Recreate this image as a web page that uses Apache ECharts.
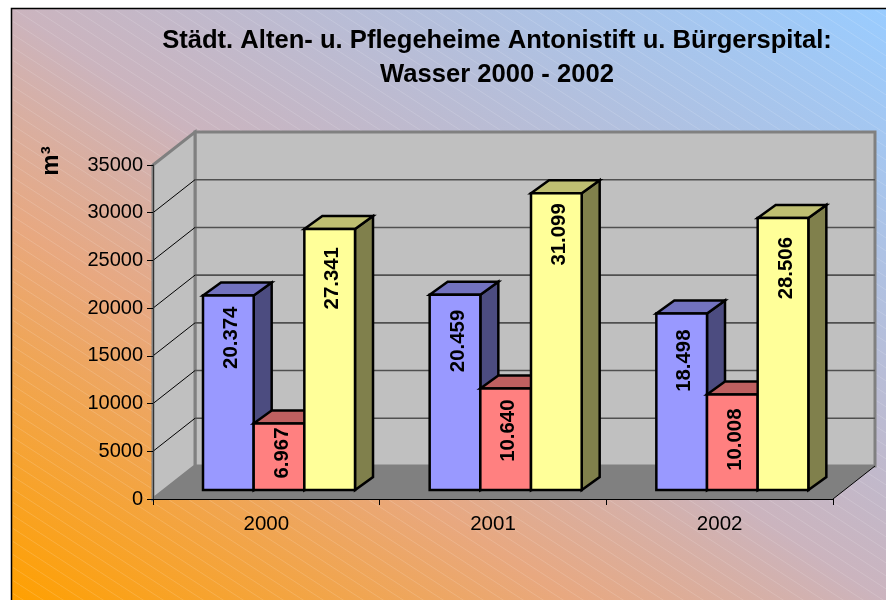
<!DOCTYPE html>
<html><head><meta charset="utf-8">
<style>html,body{margin:0;padding:0;background:#fff}#c{width:886px;height:600px}</style>
<script src="https://cdn.jsdelivr.net/npm/echarts@6/dist/echarts.min.js"></script>
</head><body><div id="c"></div>
<script>
const categories = ['2000', '2001', '2002'];
const blueValues = [20374, 20459, 18498];
const redValues = [6967, 10640, 10008];
const yellowValues = [27341, 31099, 28506];
const yTicks = [0, 5000, 10000, 15000, 20000, 25000, 30000, 35000];
const titleText = 'Städt. Alten- u. Pflegeheime Antonistift u. Bürgerspital:\nWasser 2000 - 2002';
const unitText = 'm³';
const FONT = '"Liberation Sans", Arial, sans-serif';

const WALL_DX = 42, WALL_DY = 33;     // depth of the 3D floor
const BAR_DX = 18, BAR_DY = 13;       // depth of a 3D bar
const BAR_INSET = 50, BAR_W = 50.67;  // bar placement in a category band
const BAR_LIFT = 9;
// label inset from the bar's top edge, per category
const blueLabelInset = [11, 15, 16];
const redLabelInset = [4, 11, 14];
const yellowLabelInset = [18, 10, 19];

const fmt = v => String(v).replace(/\B(?=(\d{3})+$)/g, '.');

function poly(points, fill, stroke, lw) {
  return { type: 'polygon', shape: { points }, style: { fill, stroke: stroke || 'none', lineWidth: lw || 0, lineJoin: 'miter' } };
}

function renderWalls(params, api) {
  const bl = api.coord([0, 0]);
  const tl = api.coord([0, 35000]);
  const band = api.size([1, 0])[0];
  const x0 = bl[0] - band / 2, x1 = x0 + band * categories.length;
  const yB = bl[1], yT = tl[1];
  return { type: 'group', children: [
    poly([[x0, yB], [x0 + WALL_DX, yB - WALL_DY], [x1 + WALL_DX, yB - WALL_DY], [x1, yB]], '#808080'),
    poly([[x0 + WALL_DX, yT - WALL_DY], [x1 + WALL_DX, yT - WALL_DY], [x1 + WALL_DX, yB - WALL_DY], [x0 + WALL_DX, yB - WALL_DY]], '#C0C0C0', '#808080', 3),
    poly([[x0, yT], [x0 + WALL_DX, yT - WALL_DY], [x0 + WALL_DX, yB - WALL_DY], [x0, yB]], '#C0C0C0', '#808080', 3),
    { type: 'line', shape: { x1: x1, y1: yB, x2: x1 + WALL_DX, y2: yB - WALL_DY }, style: { stroke: '#000', lineWidth: 1 } },
    { type: 'line', shape: { x1: x0, y1: yB, x2: x0 + WALL_DX, y2: yB - WALL_DY }, style: { stroke: '#808080', lineWidth: 1 } }
  ]};
}

function renderGrid(params, api) {
  const v = api.value(0);
  if (v === 0 || v === 35000) return;
  const p = api.coord([0, v]);
  const band = api.size([1, 0])[0];
  const x0 = p[0] - band / 2, x1 = x0 + band * categories.length;
  return { type: 'group', children: [
    { type: 'line', shape: { x1: x0, y1: p[1], x2: x0 + WALL_DX, y2: p[1] - WALL_DY }, style: { stroke: '#000', lineWidth: 1 } },
    { type: 'line', shape: { x1: x0 + WALL_DX, y1: p[1] - WALL_DY, x2: x1 + WALL_DX, y2: p[1] - WALL_DY }, style: { stroke: '#505050', lineWidth: 1.6 } }
  ]};
}

function barRenderer(slot, insets, front, top, side) {
  return function (params, api) {
    const cat = api.value(0), val = api.value(1);
    const band = api.size([1, 0])[0];
    const c = api.coord([cat, val]);
    const base = api.coord([cat, 0])[1] - BAR_LIFT;
    const yT = c[1] - BAR_LIFT;
    const x = c[0] - band / 2 + BAR_INSET + slot * BAR_W;
    const xr = x + BAR_W;
    const bk = 2.5;
    return { type: 'group', children: [
      poly([[xr, yT], [xr + BAR_DX, yT - BAR_DY], [xr + BAR_DX, base - BAR_DY], [xr, base]], side, '#000', bk),
      poly([[x, yT], [x + BAR_DX, yT - BAR_DY], [xr + BAR_DX, yT - BAR_DY], [xr, yT]], top, '#000', bk),
      poly([[x, yT], [xr, yT], [xr, base], [x, base]], front, '#000', bk),
      { type: 'text', x: x + BAR_W / 2 + 3, y: yT + insets[cat], rotation: Math.PI / 2,
        style: { text: fmt(val), align: 'right', verticalAlign: 'middle', fill: '#000', font: 'bold 20.4px ' + FONT } }
    ]};
  };
}

const pc = document.createElement('canvas');
pc.width = 20; pc.height = 13;
const g = pc.getContext('2d');
g.strokeStyle = 'rgba(255,255,255,0.15)';
g.lineWidth = 1;
g.beginPath(); g.moveTo(0, 0); g.lineTo(20, 13); g.stroke();

const chart = echarts.init(document.getElementById('c'), null, { renderer: 'canvas' });
const pair = arr => arr.map((v, i) => [i, v]);
const barSeries = (name, arr, slot, insets, f, t, s) => ({
  type: 'custom', name, z: 5 + slot, data: pair(arr), clip: false,
  renderItem: barRenderer(slot, insets, f, t, s), encode: { x: 0, y: 1 }
});

chart.setOption({
  animation: false,
  backgroundColor: '#fff',
  graphic: [
    { type: 'rect', z: -3, shape: { x: 11.5, y: 8.5, width: 880, height: 600 },
      style: { stroke: '#000', lineWidth: 1.5,
        fill: { type: 'linear', global: true, x: 175, y: 710, x2: 723, y2: -101,
          colorStops: [{ offset: 0, color: '#FFA000' }, { offset: 0.32, color: '#E8A880' }, { offset: 0.5, color: '#CBB4BE' }, { offset: 1, color: '#99CCFF' }] } } },
    { type: 'rect', z: -2, shape: { x: 13, y: 10, width: 873, height: 590 },
      style: { fill: { image: pc, repeat: 'repeat' } } },
    { type: 'text', z: 10, x: 51, y: 161, rotation: Math.PI / 2,
      style: { text: unitText, align: 'center', verticalAlign: 'middle', fill: '#000', font: 'bold 24px ' + FONT } }
  ],
  title: {
    text: titleText, left: 492, top: 19, textAlign: 'center',
    textStyle: { fontFamily: FONT, fontWeight: 'bold', fontSize: 25.6, lineHeight: 34, color: '#000' }
  },
  grid: { left: 153, right: 53, top: 165, bottom: 101, containLabel: false },
  xAxis: {
    type: 'category', data: categories, z: 3,
    axisLine: { lineStyle: { color: '#000', width: 1 } },
    axisTick: { show: true, length: 6, alignWithLabel: false, lineStyle: { color: '#000' } },
    axisLabel: { color: '#000', fontFamily: FONT, fontSize: 20.5, margin: 15 },
    splitLine: { show: false }
  },
  yAxis: {
    type: 'value', min: 0, max: 35000, interval: 5000, z: 3,
    axisLine: { show: true, lineStyle: { color: '#333', width: 1 } },
    axisTick: { show: true, length: 6, lineStyle: { color: '#000' } },
    axisLabel: { color: '#000', fontFamily: FONT, fontSize: 20, margin: 10, formatter: v => String(v) },
    splitLine: { show: false }
  },
  series: [
    { type: 'custom', name: 'walls', z: 1, data: [[0, 0]], renderItem: renderWalls, silent: true, encode: { x: 0, y: 1 } },
    { type: 'custom', name: 'grid', z: 2, data: yTicks.map(v => [v]), renderItem: renderGrid, silent: true, encode: { y: 0 } },
    barSeries('Blue', blueValues, 0, blueLabelInset, '#9999FF', '#7272BF', '#4C4C80'),
    barSeries('Red', redValues, 1, redLabelInset, '#FF8080', '#BF6060', '#804040'),
    barSeries('Yellow', yellowValues, 2, yellowLabelInset, '#FFFF99', '#BFBF72', '#80804C')
  ]
});
</script></body></html>
